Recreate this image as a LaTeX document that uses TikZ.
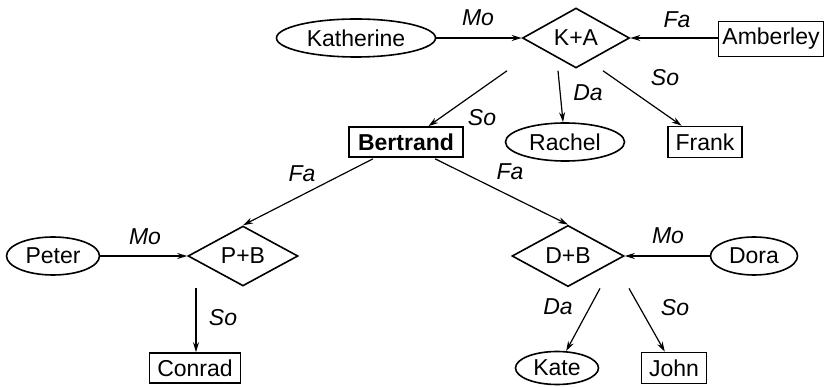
\documentclass[tikz,border=0pt]{standalone}
\usepackage{fontspec}
\setmainfont{Liberation Sans}
\usetikzlibrary{shapes.geometric,arrows.meta,calc}
\tikzset{
  ent/.style={draw, rectangle, line width=1.6pt, inner sep=0pt, font=\fontsize{23}{26}\selectfont},
  ell/.style={draw, ellipse, line width=1.6pt, inner sep=0pt, font=\fontsize{23}{26}\selectfont},
  dia/.style={draw, diamond, line width=1.6pt, inner sep=0pt, font=\fontsize{23}{26}\selectfont},
  lab/.style={font=\fontsize{23}{26}\selectfont\itshape, inner sep=0pt},
  arr/.style={line width=1.2pt, -{Stealth[length=10pt,width=6pt]}},
}
\begin{document}
\begin{tikzpicture}[x=1pt,y=-1pt]
\useasboundingbox (0,0) rectangle (825,387);
% row 1
\node[ell, minimum width=159, minimum height=38] (kat) at (356,38) {Katherine};
\node[dia, minimum width=107, minimum height=54] (ka) at (576,38) {K+A};
\node[ent, minimum width=105, minimum height=35] (amb) at (771,39) {Amberley};
% row 2
\node[ent, minimum width=114, minimum height=30, font=\fontsize{23}{26}\selectfont\bfseries] (ber) at (406,142) {Bertrand};
\node[ell, minimum width=119, minimum height=38] (rac) at (565,142) {Rachel};
\node[ent, minimum width=74, minimum height=31] (fra) at (705,142) {Frank};
% row 3
\node[ell, minimum width=93, minimum height=38] (pet) at (53,256) {Peter};
\node[dia, minimum width=110, minimum height=55] (pb) at (243,256) {P+B};
\node[dia, minimum width=112, minimum height=55] (db) at (568,256) {D+B};
\node[ell, minimum width=87, minimum height=38] (dor) at (754,256) {Dora};
% row 4
\node[ent, minimum width=91, minimum height=30] (con) at (195,368) {Conrad};
\node[ell, minimum width=83, minimum height=33] (kate) at (557,368) {Kate};
\node[ent, minimum width=65, minimum height=31] (john) at (674,368) {John};
% free start points
\coordinate (ka1) at ($(ka.south)+(-69,2)$);
\coordinate (ka2) at ($(ka.south)+(-18,2)$);
\coordinate (ka3) at ($(ka.south)+(27,2)$);
\coordinate (b1) at ($(ber.south)+(-33,1)$);
\coordinate (b2) at ($(ber.south)+(29,1)$);
\coordinate (pb1) at ($(pb.south)+(-47,1)$);
\coordinate (db1) at ($(db.south)+(32,1)$);
\coordinate (db2) at ($(db.south)+(61,1)$);
% connectors
\draw[arr] (kat.east) -- (ka.west);
\draw[arr] (amb.west |- ka.east) -- (ka.east);
\draw[arr] (ka1) -- (ber);
\draw[arr] (ka2) -- (rac);
\draw[arr] (ka3) -- (fra);
\draw[arr] (b1) -- (pb.north);
\draw[arr] (b2) -- (db.north);
\draw[arr] (pet.east) -- (pb.west);
\draw[arr] (pb1) -- (pb1 |- con.north);
\draw[arr] (dor.west) -- (db.east);
\draw[arr] (db1) -- (kate);
\draw[arr] (db2) -- (john);
% labels
\node[lab] (l1) at (478,18) {Mo};
\node[lab] (l2) at (677,20) {Fa};
\node[lab] (l3) at (482,118) {So};
\node[lab] (l4) at (588,93) {Da};
\node[lab] (l5) at (665,78) {So};
\node[lab] (l6) at (302,174) {Fa};
\node[lab] (l7) at (510,172) {Fa};
\node[lab] (l8) at (145,237) {Mo};
\node[lab] (l9) at (668,236) {Mo};
\node[lab] (l10) at (223,318) {So};
\node[lab] (l11) at (558,307) {Da};
\node[lab] (l12) at (675,308) {So};
\end{tikzpicture}
\end{document}
